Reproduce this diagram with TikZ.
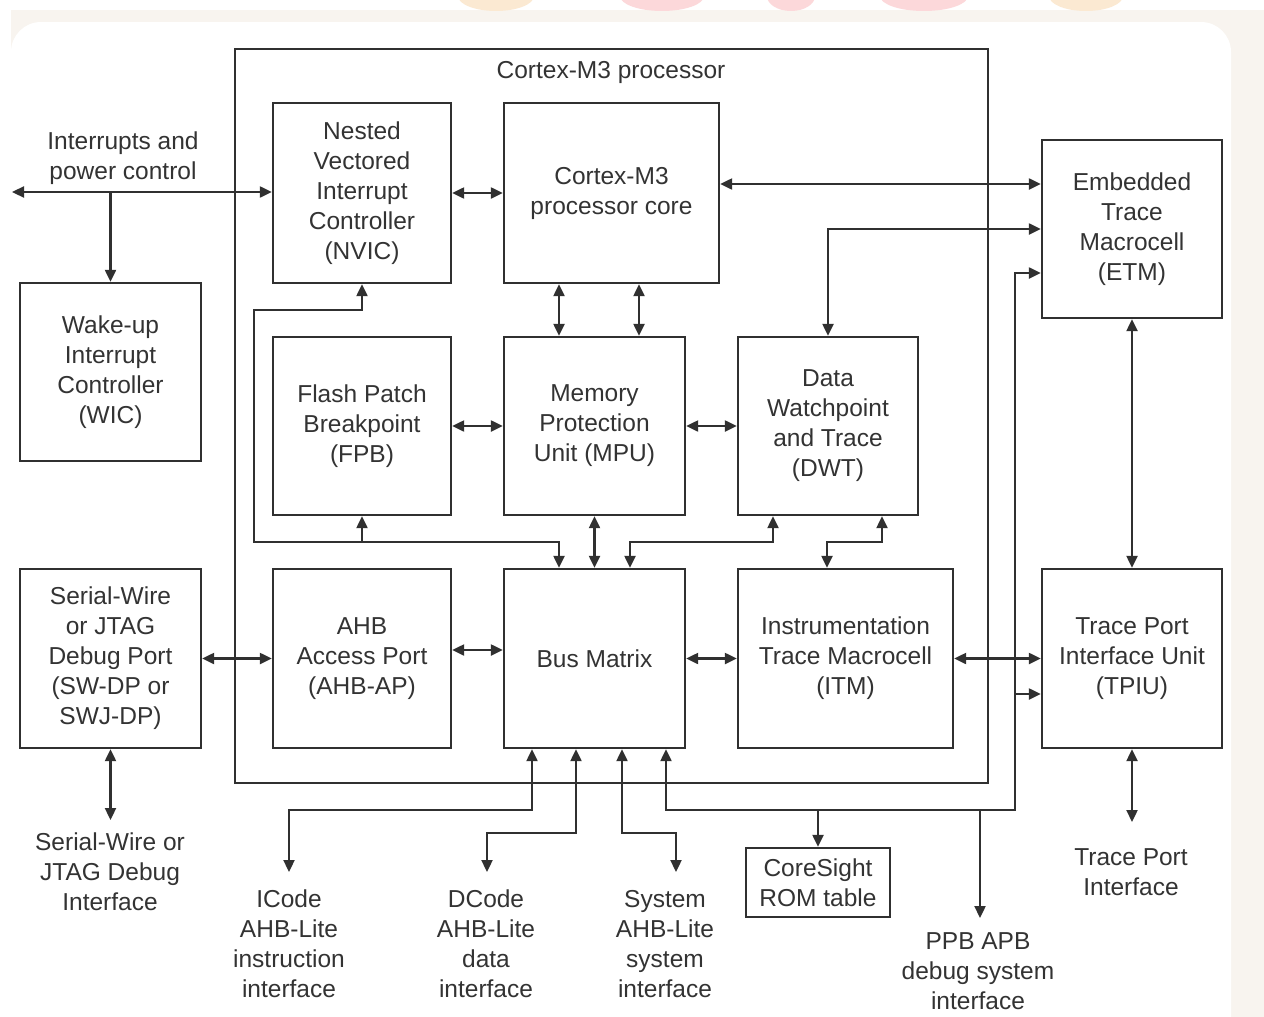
\documentclass[tikz,border=0pt]{standalone}
\usepackage{fontspec}
\setmainfont{Liberation Sans}
\usetikzlibrary{arrows.meta}
\definecolor{ln}{HTML}{303030}
\definecolor{tx}{HTML}{333333}
\definecolor{bg}{HTML}{F8F4EF}
\definecolor{blobO}{HTML}{FBE9D2}
\definecolor{blobP}{HTML}{FCD8DA}
\begin{document}
\begin{tikzpicture}[x=1pt,y=-1pt,
  blk/.style={draw=ln,line width=2.4pt,align=center,text=tx,font=\fontsize{24.5}{30}\selectfont,inner sep=0pt},
  lbl/.style={align=center,text=tx,font=\fontsize{24.5}{30}\selectfont,inner sep=0pt},
  con/.style={draw=ln,line width=2.3pt},
  arr/.style={con,-{Triangle[length=12pt,width=11pt]}},
  dbl/.style={con,{Triangle[length=12pt,width=11pt]}-{Triangle[length=12pt,width=11pt]}},
]
\useasboundingbox (0,0) rectangle (1264,1017);
% background
\fill[white] (0,0) rectangle (1264,1017);
\fill[bg] (11,10) rectangle (1264,1017);
\fill[white,rounded corners=30pt] (11,22) rectangle (1231,1060);
\begin{scope}
  \clip (0,0) rectangle (1264,10);
  \fill[blobO] (496,-4) ellipse [x radius=38, y radius=15];
  \fill[blobP] (662,-4) ellipse [x radius=42, y radius=15];
  \fill[blobP] (791,-4) ellipse [x radius=24, y radius=15];
  \fill[blobP] (924,-4) ellipse [x radius=44, y radius=15];
  \fill[blobO] (1086,-4) ellipse [x radius=37, y radius=15];
\end{scope}

% processor box
\node[draw=ln,line width=2.4pt,minimum width=753,minimum height=734,inner sep=0pt] (proc) at (611.5,416) {};
\node[lbl] (proctitle) at (611,72) {Cortex-M3 processor};

% blocks
\node[blk,minimum width=178,minimum height=180] (nvic) at (362,193) {Nested\\Vectored\\Interrupt\\Controller\\(NVIC)};
\node[blk,minimum width=215,minimum height=180] (core) at (611.5,193) {Cortex-M3\\processor core};
\node[blk,minimum width=180,minimum height=178] (etm) at (1132,229) {Embedded\\Trace\\Macrocell\\(ETM)};
\node[blk,minimum width=181,minimum height=178] (wic) at (110.5,372) {Wake-up\\Interrupt\\Controller\\(WIC)};
\node[blk,minimum width=178,minimum height=178] (fpb) at (362,426) {Flash Patch\\Breakpoint\\(FPB)};
\node[blk,minimum width=181,minimum height=178] (mpu) at (594.5,426) {Memory\\Protection\\Unit (MPU)};
\node[blk,minimum width=180,minimum height=178] (dwt) at (828,426) {Data\\Watchpoint\\and Trace\\(DWT)};
\node[blk,minimum width=181,minimum height=179] (swdp) at (110.5,658.5) {Serial-Wire\\or JTAG\\Debug Port\\(SW-DP or\\SWJ-DP)};
\node[blk,minimum width=178,minimum height=179] (ahbap) at (362,658.5) {AHB\\Access Port\\(AHB-AP)};
\node[blk,minimum width=181,minimum height=179] (bus) at (594.5,658.5) {Bus Matrix};
\node[blk,minimum width=215,minimum height=179] (itm) at (845.5,658.5) {Instrumentation\\Trace Macrocell\\(ITM)};
\node[blk,minimum width=180,minimum height=179] (tpiu) at (1132,658.5) {Trace Port\\Interface Unit\\(TPIU)};
\node[blk,minimum width=144,minimum height=69] (rom) at (818,882.5) {CoreSight\\ROM table};

% outside labels
\node[lbl] (intlbl) at (123,158) {Interrupts and\\power control};
\node[lbl] (swlbl) at (110,872) {Serial-Wire or\\JTAG Debug\\Interface};
\node[lbl] (iclbl) at (289,944) {ICode\\AHB-Lite\\instruction\\interface};
\node[lbl] (dclbl) at (486,944) {DCode\\AHB-Lite\\data\\interface};
\node[lbl] (sylbl) at (665,944) {System\\AHB-Lite\\system\\interface};
\node[lbl] (pplbl) at (978,971) {PPB APB\\debug system\\interface};
\node[lbl] (tplbl) at (1131,872) {Trace Port\\Interface};

% helper coordinates
\coordinate (intL) at (12,192);
\coordinate (h184) at (0,184);
\coordinate (h229) at (0,229);
\coordinate (h273) at (0,273);
\coordinate (h310) at (0,310);
\coordinate (h542) at (0,542);
\coordinate (h650) at (0,650);
\coordinate (h694) at (0,694);
\coordinate (h810) at (0,810);
\coordinate (h833) at (0,833);
\coordinate (v254) at (254,0);
\coordinate (v559) at (559,0);
\coordinate (v639) at (639,0);
\coordinate (v630) at (630,0);
\coordinate (v773) at (773,0);
\coordinate (v882) at (882,0);
\coordinate (v827) at (827,0);
\coordinate (v532) at (532,0);
\coordinate (v289) at (289,0);
\coordinate (v576) at (576,0);
\coordinate (v487) at (487,0);
\coordinate (v622) at (622,0);
\coordinate (v676) at (676,0);
\coordinate (v666) at (666,0);
\coordinate (v1015) at (1015,0);
\coordinate (v980) at (980,0);
\coordinate (icT) at (289,872);
\coordinate (dcT) at (487,872);
\coordinate (syT) at (676,872);
\coordinate (ppT) at (980,918);
\coordinate (tpT) at (1132,822);
\coordinate (swT) at (110.5,820);

% connectors
\draw[dbl] (intL) -- (intL -| nvic.west);
\draw[arr] (intL -| wic.north) -- (wic.north);
\draw[dbl] (nvic.east) -- (core.west);
\draw[dbl] (core.east |- h184) -- (etm.west |- h184);
\draw[dbl] (core.south -| v559) -- (mpu.north -| v559);
\draw[dbl] (core.south -| v639) -- (mpu.north -| v639);
\draw[dbl] (dwt.north) |- (etm.west |- h229);
\draw[dbl] (fpb.east) -- (mpu.west);
\draw[dbl] (mpu.east) -- (dwt.west);
\draw[dbl] (nvic.south) |- (v254 |- h310) |- (v559 |- h542) -- (bus.north -| v559);
\draw[arr] (fpb.south |- h542) -- (fpb.south);
\draw[dbl] (mpu.south) -- (bus.north);
\draw[dbl] (bus.north -| v630) |- (v773 |- h542) -- (dwt.south -| v773);
\draw[dbl] (dwt.south -| v882) |- (v827 |- h542) -- (itm.north -| v827);
\draw[dbl] (ahbap.east |- h650) -- (bus.west |- h650);
\draw[dbl] (swdp.east) -- (ahbap.west);
\draw[dbl] (bus.east) -- (itm.west);
\draw[dbl] (itm.east) -- (tpiu.west);
\draw[dbl] (etm.south) -- (tpiu.north);
\draw[dbl] (tpiu.south) -- (tpT);
\draw[dbl] (swdp.south) -- (swT);
\draw[dbl] (bus.south -| v532) |- (v289 |- h810) -- (icT);
\draw[dbl] (bus.south -| v576) |- (v487 |- h833) -- (dcT);
\draw[dbl] (bus.south -| v622) |- (v676 |- h833) -- (syT);
\draw[dbl] (bus.south -| v666) |- (v1015 |- h810) |- (etm.west |- h273);
\draw[arr] (rom.north |- h810) -- (rom.north);
\draw[arr] (v980 |- h810) -- (ppT);
\draw[arr] (v1015 |- h694) -- (tpiu.west |- h694);
\end{tikzpicture}
\end{document}
